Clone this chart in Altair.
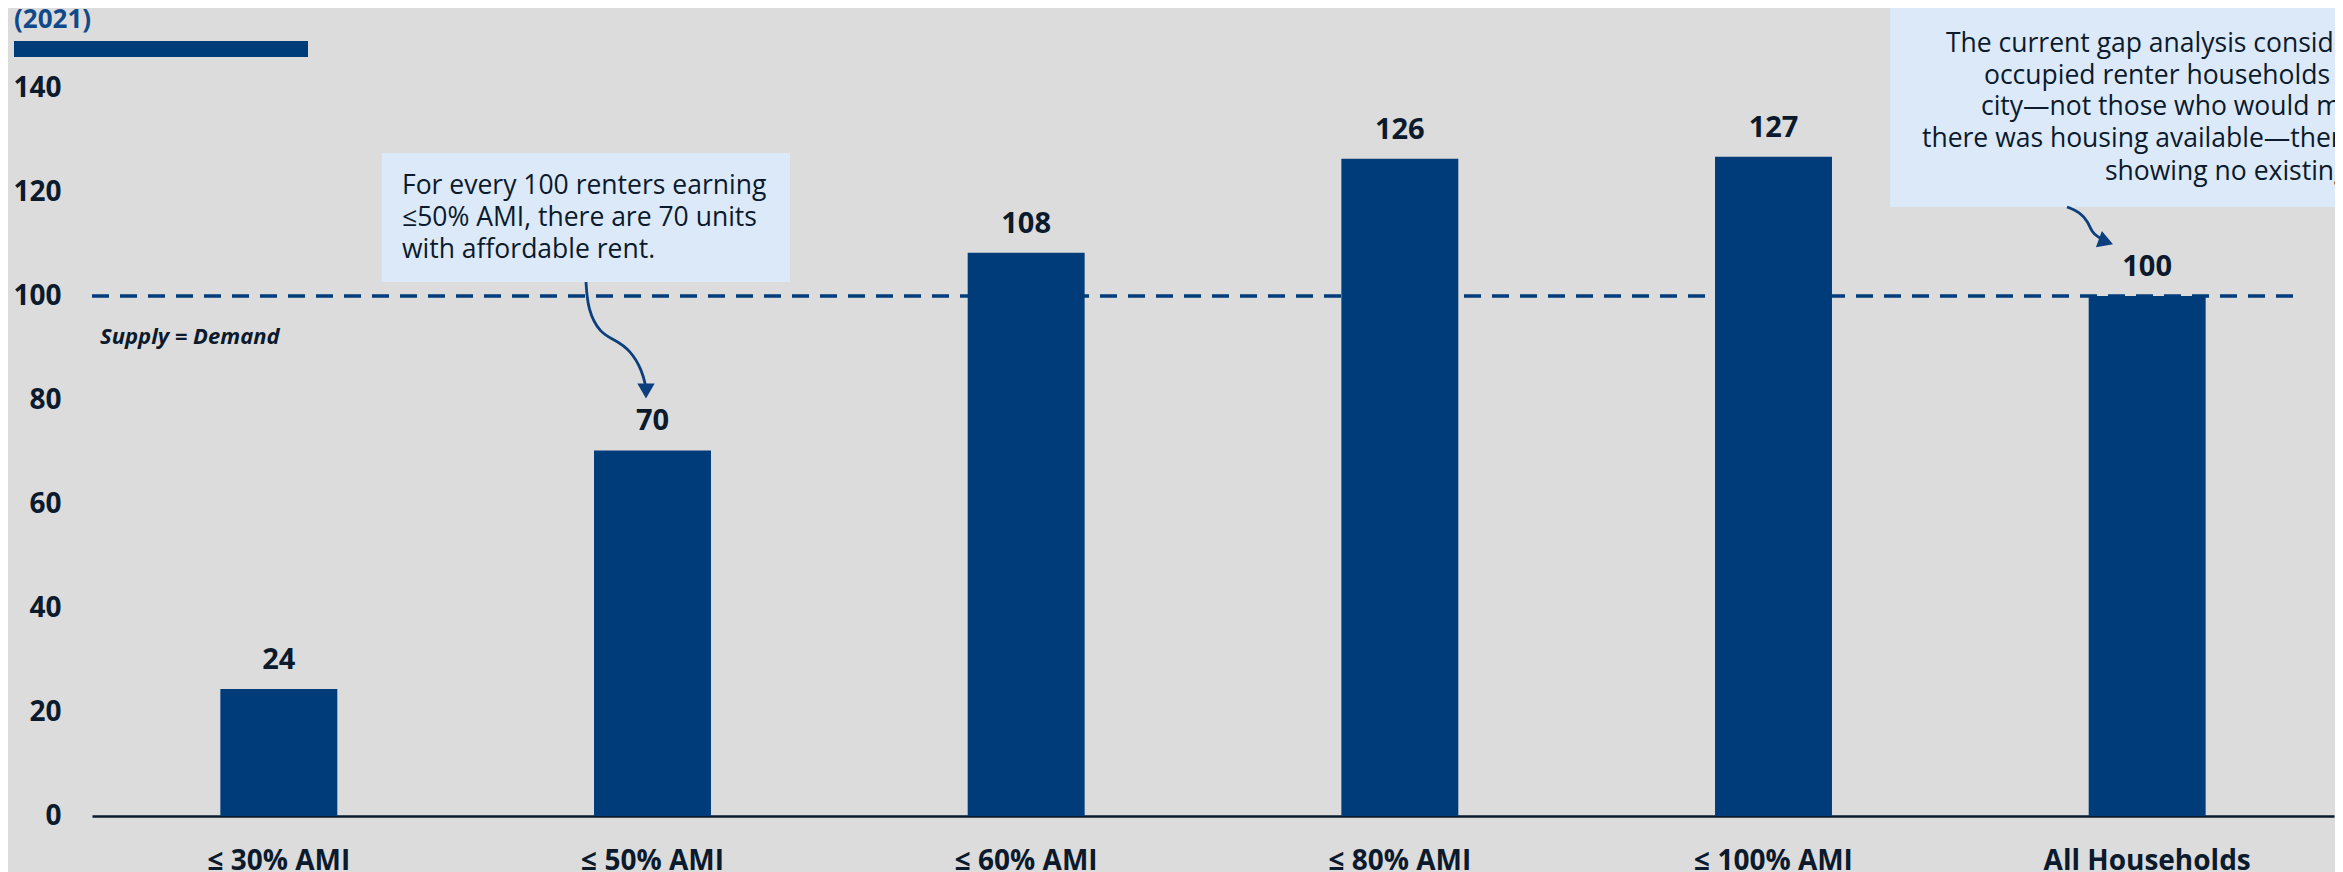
import altair as alt
import pandas as pd

# ---- data ----
categories = ["≤ 30% AMI", "≤ 50% AMI", "≤ 60% AMI", "≤ 80% AMI", "≤ 100% AMI", "All Households"]
values = [24.4, 70.3, 108.3, 126.4, 126.8, 100.0]
value_labels = ["24", "70", "108", "126", "127", "100"]
y_ticks = [0, 20, 40, 60, 80, 100, 120, 140]
supply_demand = 100
title_text = "(2021)"
supply_label = "Supply = Demand"

note1_lines = ["For every 100 renters earning", "≤50% AMI, there are 70 units", "with affordable rent."]
note2_lines = [
    "The current gap analysis considers only",
    "occupied renter households in the",
    "city—not those who would move here if",
    "there was housing available—thereby",
    "showing no existing gap.",
]

# annotation geometry in chart units (x: category band units 0-6, y: value units)
note1_box = [0.776, 1.868, 102.7, 127.5]
note1_pos = [0.8296, 119.6]
note2_box = [4.812, 6.1, 117.1, 155.6]
note2_x = [4.9615, 5.0632, 5.0552, 4.8973, 5.3871]
note2_y = [146.92, 140.77, 134.81, 128.65, 122.31]
rule_span = [0.0, 5.91]
supply_pos = [0.0214, 90.77]
arrow1_x = [1.322, 1.327, 1.359, 1.400, 1.440, 1.472, 1.483]
arrow1_y = [102.69, 97.31, 92.88, 91.54, 89.62, 85.77, 82.31]
arrow2_x = [5.2855, 5.320, 5.342, 5.352, 5.368, 5.384]
arrow2_y = [117.12, 116.15, 114.23, 112.31, 111.35, 110.77]
heads_x = [1.4826, 5.3897]
heads_y = [81.73, 110.46]
heads_shape = ["triangle-down", "triangle-right"]
heads_angle = [0, 20]

# ---- styles ----
FONT = "Open Sans"
NAVY = "#003b7a"
DARK = "#0b1a2c"
BG = "#dcdcdc"
BOX = "#dce9f8"
ARROW = "#0b3f7e"

df = pd.DataFrame({"cat": categories, "val": values, "lab": value_labels})

yscale = alt.Scale(domain=[0, 155], nice=False, zero=True)
xq = alt.Scale(domain=[0, 6], nice=False, zero=False)
xband = alt.Scale(paddingInner=0.687, paddingOuter=0.3435)
xaxis = alt.Axis(labelAngle=0, labelFont=FONT, labelFontSize=28, labelFontWeight="bold",
                 labelColor=DARK, labelPadding=31, labelLimit=600, ticks=False, tickSize=0,
                 domainColor=DARK, domainWidth=2.5, grid=False)

base = alt.Chart(df)

bars = base.mark_bar(color=NAVY).encode(
    x=alt.X("cat:N", sort=categories, title=None, scale=xband, axis=xaxis),
    y=alt.Y("val:Q", scale=yscale, title=None,
            axis=alt.Axis(values=y_ticks, labelFont=FONT, labelFontSize=28, labelFontWeight="bold",
                          labelColor=DARK, labelPadding=31, ticks=False, tickSize=0,
                          domain=False, grid=False)),
)

vlabels = base.mark_text(font=FONT, fontSize=29, fontWeight="bold", color=DARK,
                         baseline="alphabetic", dy=-20).encode(
    x=alt.X("cat:N", sort=categories, title=None, scale=xband, axis=xaxis),
    y=alt.Y("val:Q", scale=yscale),
    text="lab:N",
)

main = alt.layer(bars, vlabels)

rule_df = pd.DataFrame({"x": [rule_span[0]], "x2": [rule_span[1]], "y": [supply_demand]})
rule = alt.Chart(rule_df).mark_rule(color=NAVY, strokeWidth=3.5, strokeDash=[17, 11]).encode(
    x=alt.X("x:Q", scale=xq, axis=None), x2="x2:Q",
    y=alt.Y("y:Q", scale=yscale),
)

supply = alt.Chart(pd.DataFrame({"x": [supply_pos[0]], "y": [supply_pos[1]], "t": [supply_label]})).mark_text(
    font=FONT, fontSize=22, fontWeight="bold", fontStyle="italic", color=DARK,
    align="left", baseline="alphabetic").encode(
    x=alt.X("x:Q", scale=xq, axis=None), y=alt.Y("y:Q", scale=yscale), text="t:N")

boxes_df = pd.DataFrame({
    "x": [note1_box[0], note2_box[0]], "x2": [note1_box[1], note2_box[1]],
    "y": [note1_box[2], note2_box[2]], "y2": [note1_box[3], note2_box[3]],
})
boxes = alt.Chart(boxes_df).mark_rect(color=BOX).encode(
    x=alt.X("x:Q", scale=xq, axis=None), x2="x2:Q",
    y=alt.Y("y:Q", scale=yscale), y2="y2:Q",
)

note1 = alt.Chart(pd.DataFrame({"x": [note1_pos[0]], "y": [note1_pos[1]], "t": [note1_lines]})).mark_text(
    font=FONT, fontSize=26.5, color=DARK, align="left", baseline="alphabetic", lineHeight=32).encode(
    x=alt.X("x:Q", scale=xq, axis=None), y=alt.Y("y:Q", scale=yscale), text="t")

note2 = alt.Chart(pd.DataFrame({"x": note2_x, "y": note2_y, "t": note2_lines})).mark_text(
    font=FONT, fontSize=26.5, color=DARK, align="left", baseline="alphabetic").encode(
    x=alt.X("x:Q", scale=xq, axis=None), y=alt.Y("y:Q", scale=yscale), text="t:N")

arrows_df = pd.DataFrame({
    "x": arrow1_x + arrow2_x,
    "y": arrow1_y + arrow2_y,
    "g": ["a1"] * len(arrow1_x) + ["a2"] * len(arrow2_x),
    "i": list(range(len(arrow1_x))) + list(range(len(arrow2_x))),
})
arrows = alt.Chart(arrows_df).mark_line(color=ARROW, strokeWidth=2.8, interpolate="basis").encode(
    x=alt.X("x:Q", scale=xq, axis=None), y=alt.Y("y:Q", scale=yscale),
    detail="g:N", order="i:Q",
)

heads = []
for hx, hy, hs, ha in zip(heads_x, heads_y, heads_shape, heads_angle):
    heads.append(alt.Chart(pd.DataFrame({"x": [hx], "y": [hy]})).mark_point(
        shape=hs, size=300, filled=True, opacity=1, color=ARROW, angle=ha, strokeWidth=0).encode(
        x=alt.X("x:Q", scale=xq, axis=None), y=alt.Y("y:Q", scale=yscale)))

annot = alt.layer(rule, supply, boxes, note1, note2, arrows, *heads)

title = alt.Chart(pd.DataFrame({"t": [title_text]})).mark_text(
    font=FONT, fontSize=26, fontWeight="bold", color="#114a8b", align="left", baseline="alphabetic").encode(
    x=alt.value(-78), y=alt.value(18), text="t:N")

title_bar = alt.Chart(pd.DataFrame({"t": [title_text]})).mark_rect(color=NAVY).encode(
    x=alt.value(-78), x2=alt.value(216), y=alt.value(31), y2=alt.value(47))

chart = alt.layer(
    main, annot, title, title_bar
).resolve_scale(x="independent").properties(
    width=2242, height=806,
    autosize=alt.AutoSizeParams(type="none"),
    padding={"left": 84, "top": 2, "right": 1, "bottom": 56},
    background=BG,
).configure_view(stroke=None)

chart.save("out.html", embed_options={"renderer": "svg", "actions": False})
